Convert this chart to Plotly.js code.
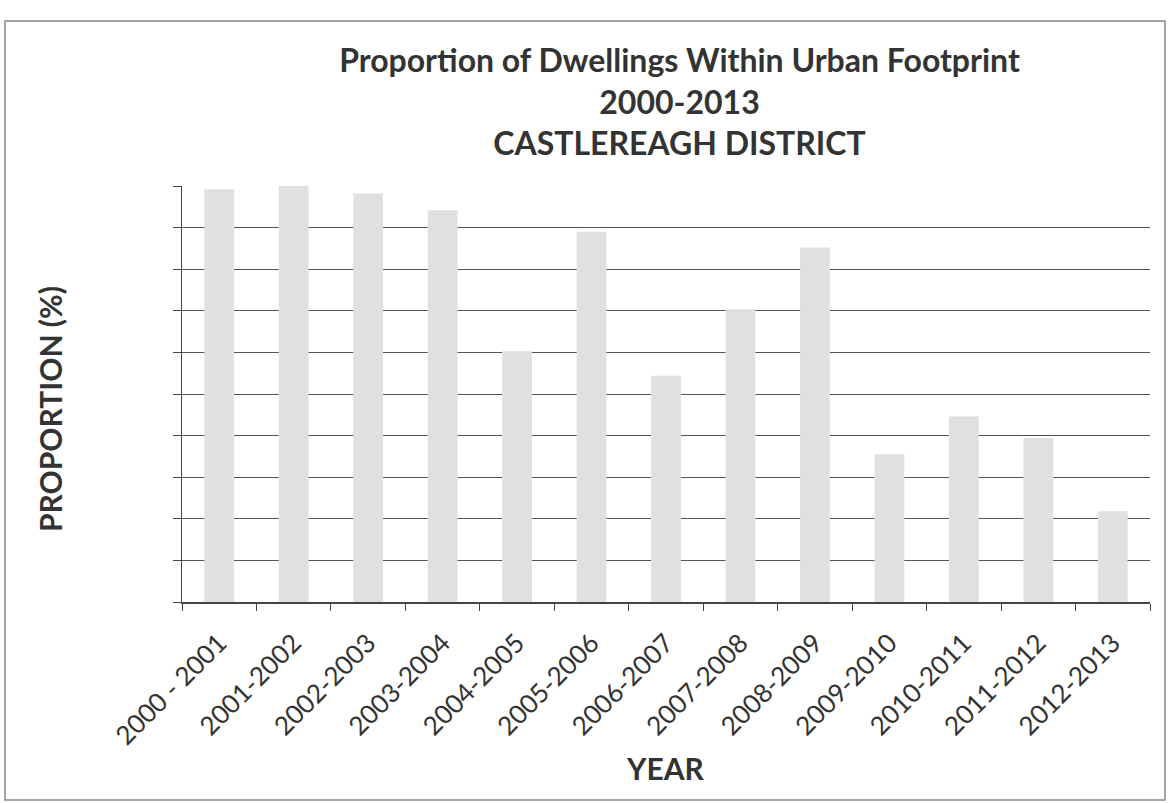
<!DOCTYPE html>
<html>
<head>
<meta charset="utf-8">
<script src="https://cdn.plot.ly/plotly-3.0.1.min.js"></script>
<style>
html,body{margin:0;padding:0;background:#fff;}
#chart{width:1169px;height:803px;}
</style>
</head>
<body>
<div id="chart"></div>
<script>
const years = ["2000 - 2001","2001-2002","2002-2003","2003-2004","2004-2005","2005-2006","2006-2007","2007-2008","2008-2009","2009-2010","2010-2011","2011-2012","2012-2013"];
const proportion = [99.2, 100, 98.2, 94.2, 60.3, 89.0, 54.4, 70.4, 85.2, 35.5, 44.6, 39.4, 21.8];

const fontFam = "Lato, 'Open Sans', sans-serif";
const trace = {
  type: "bar",
  x: years,
  y: proportion,
  marker: {color: "#e0e0e0", line: {width: 0}},
  hoverinfo: "x+y"
};

const W = 1169, H = 803;
const L = 182, R = 19, T = 186, B = 201;
const pw = W - L - R, ph = H - T - B;
function px(x){ return (x - L) / pw; }
function py(y){ return (H - B - y) / ph; }

const layout = {
  width: W, height: H,
  margin: {l: L, r: R, t: T, b: B},
  paper_bgcolor: "#fff",
  plot_bgcolor: "#fff",
  showlegend: false,
  bargap: 0.6,
  title: {
    text: "<b>Proportion of Dwellings Within Urban Footprint<br>2000-2013<br>CASTLEREAGH DISTRICT</b>",
    font: {family: fontFam, size: 32, color: "#333"},
    x: 679.5 / W, xanchor: "center",
    y: 1 - 72 / H, yanchor: "top"
  },
  xaxis: {
    type: "category",
    tickson: "boundaries",
    ticks: "outside", ticklen: 7, tickcolor: "#444", tickwidth: 1,
    showline: true, linecolor: "#444", linewidth: 1.5,
    showgrid: false,
    tickangle: -45,
    ticklabelstandoff: 14,
    tickfont: {family: fontFam, size: 26, color: "#333"}
  },
  yaxis: {
    range: [0, 100],
    dtick: 10,
    showticklabels: false,
    ticks: "outside", ticklen: 8, tickcolor: "#444", tickwidth: 1,
    showline: true, linecolor: "#444", linewidth: 1.5,
    showgrid: true, gridcolor: "#555", gridwidth: 1,
    zeroline: false
  },
  annotations: [
    {text: "<b>YEAR</b>", xref: "paper", yref: "paper", x: px(665), y: py(768),
     xanchor: "center", yanchor: "middle", showarrow: false,
     font: {family: fontFam, size: 30, color: "#333"}},
    {text: "<b>PROPORTION (%)</b>", xref: "paper", yref: "paper", x: px(50), y: py(409),
     xanchor: "center", yanchor: "middle", showarrow: false, textangle: -90,
     font: {family: fontFam, size: 30, color: "#333"}}
  ],
  shapes: [{
    type: "rect", xref: "paper", yref: "paper",
    x0: px(5), x1: px(1165), y0: py(800), y1: py(21),
    line: {color: "#888", width: 1.5}, fillcolor: "rgba(0,0,0,0)", layer: "below"
  }]
};

Plotly.newPlot("chart", [trace], layout, {displayModeBar: false, staticPlot: true});
</script>
</body>
</html>
